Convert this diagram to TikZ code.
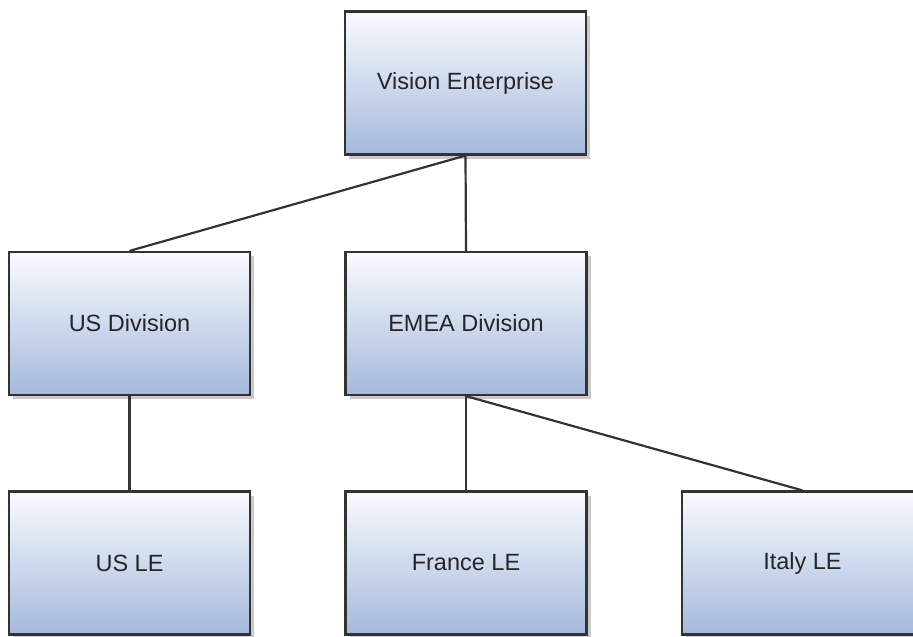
\documentclass[tikz,border=0pt]{standalone}
\usepackage{fontspec}
\setmainfont{Liberation Sans}
\usetikzlibrary{shadows}
\definecolor{boxtop}{HTML}{FAFBFE}
\definecolor{boxbot}{HTML}{A4B9DD}
\definecolor{edge}{HTML}{333333}
\tikzset{
  orgbox/.style={draw=edge, line width=2.2pt, top color=boxtop, bottom color=boxbot,
    minimum width=241pt, minimum height=143pt, inner sep=0pt, text=black!85,
    font=\fontsize{23.5}{28}\selectfont,
    drop shadow={shadow xshift=4pt, shadow yshift=-4pt, fill=black!35, opacity=0.6}},
  link/.style={draw=edge, line width=2.2pt}
}
\begin{document}
\begin{tikzpicture}[x=1pt,y=-1pt]
\useasboundingbox (0,0) rectangle (913,637);
\clip (0,0) rectangle (913,637);
\node[orgbox] (ve) at (465.5,83) {Vision Enterprise};
\node[orgbox] (usd) at (129.5,323.5) {US Division};
\node[orgbox] (emea) at (466,323.5) {EMEA Division};
\node[orgbox] (usle) at (129.5,563) {US LE};
\node[orgbox] (fr) at (466,563) {France LE};
\node[orgbox] (it) at (802.5,563) {Italy LE};
\draw[link] (ve.south) -- (usd.north);
\draw[link] (ve.south) -- (emea.north);
\draw[link] (usd.south) -- (usle.north);
\draw[link] (emea.south) -- (fr.north);
\draw[link] (emea.south) -- (it.north);
\end{tikzpicture}
\end{document}
